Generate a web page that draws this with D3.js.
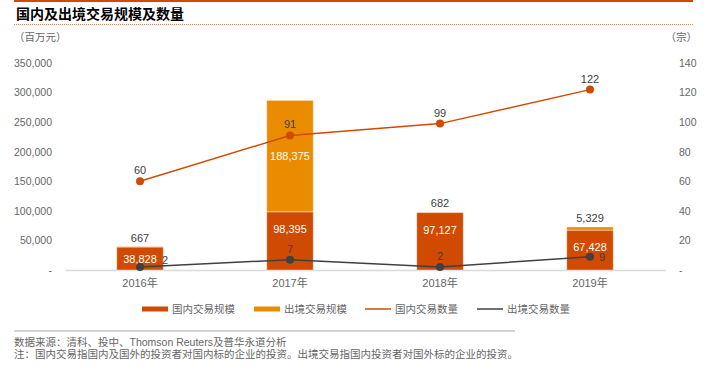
<!DOCTYPE html>
<html>
<head>
<meta charset="utf-8">
<script src="https://cdn.jsdelivr.net/npm/d3@7"></script>
<style>
  body { margin: 0; background: #fff; }
  svg { font-family: "Liberation Sans", Arial, "Noto Sans CJK SC", sans-serif; }
</style>
</head>
<body>
<div id="chart"></div>
<script>
// data
const years = ['2016年', '2017年', '2018年', '2019年'];
const domesticSize = [38828, 98395, 97127, 67428];   // 百万元
const outboundSize = [667, 188375, 682, 5329];       // 百万元
const domesticCount = [60, 91, 99, 122];             // 宗
const outboundCount = [2, 7, 2, 9];                  // 宗
const leftTicks = [0, 50000, 100000, 150000, 200000, 250000, 300000, 350000];
const rightTicks = [0, 20, 40, 60, 80, 100, 120, 140];
const legendNames = ['国内交易规模', '出境交易规模', '国内交易数量', '出境交易数量'];

const W = 716, H = 372;
const cDom = '#d04a02', cOut = '#eb8c00', cDark = '#404041', cGray = '#666666';

const svg = d3.select('#chart').append('svg')
    .attr('width', W).attr('height', H);

// header
svg.append('line').attr('x1', 14).attr('x2', 693).attr('y1', 1).attr('y2', 1)
    .attr('stroke', cDom).attr('stroke-width', 2);
svg.append('text').attr('x', 16).attr('y', 18.5)
    .attr('font-size', 14).attr('font-weight', 'bold').attr('fill', '#000')
    .attr('font-family', '"Noto Sans CJK SC", sans-serif')
    .text('国内及出境交易规模及数量');
svg.append('line').attr('x1', 14).attr('x2', 693).attr('y1', 24.5).attr('y2', 24.5)
    .attr('stroke', '#e8834a').attr('stroke-width', 1).attr('stroke-dasharray', '1,1');

svg.append('text').attr('x', 14).attr('y', 41).attr('font-size', 10.5).attr('fill', cGray)
    .attr('font-family', '"Noto Sans CJK SC", sans-serif').text('（百万元）');
svg.append('text').attr('x', 697).attr('y', 41).attr('font-size', 10.5).attr('fill', cGray)
    .attr('text-anchor', 'end')
    .attr('font-family', '"Noto Sans CJK SC", sans-serif').text('（宗）');

// scales
const x = d3.scaleBand().domain(years).range([65, 665]).paddingInner(0.69).paddingOuter(0.345);
const yL = d3.scaleLinear().domain([0, 350000]).range([270, 63]);
const yR = d3.scaleLinear().domain([0, 140]).range([270, 63]);
const cx = (d, i) => x(years[i]) + x.bandwidth() / 2;

const fmt = d3.format(',');

// left axis
const axL = svg.append('g').attr('transform', 'translate(52,0)')
    .call(d3.axisLeft(yL).tickValues(leftTicks).tickSize(0).tickPadding(0)
      .tickFormat(d => d === 0 ? '-' : fmt(d)));
axL.select('.domain').remove();
axL.selectAll('text').attr('font-size', 10.5).attr('fill', cGray)
    .attr('font-family', '"Liberation Sans", Arial, sans-serif');

// right axis
const axR = svg.append('g').attr('transform', 'translate(679,0)')
    .call(d3.axisRight(yR).tickValues(rightTicks).tickSize(0).tickPadding(0)
      .tickFormat(d => d === 0 ? '-' : d));
axR.select('.domain').remove();
axR.selectAll('text').attr('font-size', 10.5).attr('fill', cGray)
    .attr('font-family', '"Liberation Sans", Arial, sans-serif');

// bottom axis
const axB = svg.append('g').attr('transform', 'translate(0,270)')
    .call(d3.axisBottom(x).tickSize(0).tickPadding(9));
axB.select('.domain').attr('stroke', '#d9d9d9').attr('stroke-width', 1.5);
axB.selectAll('text').attr('font-size', 11).attr('fill', cGray)
    .attr('font-family', '"Liberation Sans", "Noto Sans CJK SC", sans-serif');

// stacked bars
const bars = svg.append('g');
bars.selectAll('rect.dom').data(domesticSize).enter().append('rect')
    .attr('class', 'dom')
    .attr('x', (d, i) => x(years[i]))
    .attr('width', x.bandwidth())
    .attr('y', d => yL(d))
    .attr('height', d => yL(0) - yL(d))
    .attr('fill', cDom).attr('stroke', '#fff').attr('stroke-opacity', 0.4).attr('stroke-width', 1);
bars.selectAll('rect.out').data(outboundSize).enter().append('rect')
    .attr('class', 'out')
    .attr('x', (d, i) => x(years[i]))
    .attr('width', x.bandwidth())
    .attr('y', (d, i) => yL(d + domesticSize[i]))
    .attr('height', (d, i) => yL(domesticSize[i]) - yL(d + domesticSize[i]))
    .attr('fill', cOut).attr('stroke', '#fff').attr('stroke-opacity', 0.4).attr('stroke-width', 1);

// bar labels
const lbl = svg.append('g').attr('font-size', 11).attr('text-anchor', 'middle');
lbl.selectAll('text.dom').data(domesticSize).enter().append('text')
    .attr('x', cx)
    .attr('y', d => yL(d) + Math.min((yL(0) - yL(d)) / 2, 17) + 4)
    .attr('fill', '#fff')
    .text(d => fmt(d));
lbl.selectAll('text.out').data(outboundSize).enter().append('text')
    .attr('x', cx)
    .attr('y', (d, i) => {
      const top = yL(d + domesticSize[i]), h = yL(domesticSize[i]) - top;
      return h > 20 ? top + h / 2 + 4 : top - 5;
    })
    .attr('fill', (d, i) => (yL(domesticSize[i]) - yL(d + domesticSize[i])) > 20 ? '#fff' : cDark)
    .text(d => fmt(d));

// lines
const line = d3.line().x(cx).y(d => yR(d));
svg.append('path').datum(domesticCount).attr('d', line)
    .attr('fill', 'none').attr('stroke', cDom).attr('stroke-width', 1.5);
svg.append('path').datum(outboundCount).attr('d', line)
    .attr('fill', 'none').attr('stroke', cDark).attr('stroke-width', 1.5);
svg.append('g').selectAll('circle').data(domesticCount).enter().append('circle')
    .attr('cx', cx).attr('cy', d => yR(d)).attr('r', 4).attr('fill', cDom);
svg.append('g').selectAll('circle').data(outboundCount).enter().append('circle')
    .attr('cx', cx).attr('cy', d => yR(d)).attr('r', 4).attr('fill', cDark);

svg.append('g').attr('font-size', 11).attr('text-anchor', 'middle').attr('fill', cDark)
  .selectAll('text').data(domesticCount).enter().append('text')
    .attr('x', cx).attr('y', d => yR(d) - 7).text(d => d);

// outbound count labels: first and last sit to the right of the point
const sideRight = [true, false, false, true];
svg.append('g').attr('font-size', 11).attr('fill', cDark)
  .selectAll('text').data(outboundCount).enter().append('text')
    .attr('text-anchor', (d, i) => sideRight[i] ? 'start' : 'middle')
    .attr('x', (d, i) => cx(d, i) + (sideRight[i] ? (i === 0 ? 22 : 9) : 0))
    .attr('y', (d, i) => sideRight[i] ? yR(d) + 4 - (i === 0 ? 7 : 0) : yR(d) - 7)
    .text(d => d);

// legend
const legX = [142, 254, 365, 477];
const leg = svg.append('g').selectAll('g').data(legendNames).enter().append('g')
    .attr('transform', (d, i) => `translate(${legX[i]},309)`);
leg.filter((d, i) => i < 2).append('rect')
    .attr('x', 0).attr('y', -2.5).attr('width', 26).attr('height', 5)
    .attr('fill', (d, i) => i === 0 ? cDom : cOut);
leg.filter((d, i) => i >= 2).append('line')
    .attr('x1', 0).attr('x2', 26).attr('y1', 0).attr('y2', 0)
    .attr('stroke', (d, i) => i === 0 ? cDom : cDark).attr('stroke-width', 1.5);
leg.append('text').attr('x', 30).attr('y', 4).attr('font-size', 10.5).attr('fill', cGray)
    .attr('font-family', '"Noto Sans CJK SC", sans-serif')
    .text(d => d);

// footer
svg.append('line').attr('x1', 14).attr('x2', 515).attr('y1', 331).attr('y2', 331)
    .attr('stroke', '#a6a6a6').attr('stroke-width', 1);
svg.append('text').attr('x', 14).attr('y', 346).attr('font-size', 10.5).attr('fill', cGray)
    .attr('font-family', '"Liberation Sans", "Noto Sans CJK SC", sans-serif')
    .text('数据来源：清科、投中、Thomson Reuters及普华永道分析');
svg.append('text').attr('x', 14).attr('y', 358).attr('font-size', 10.5).attr('fill', cGray)
    .attr('font-family', '"Noto Sans CJK SC", sans-serif')
    .text('注：国内交易指国内及国外的投资者对国内标的企业的投资。出境交易指国内投资者对国外标的企业的投资。');
</script>
</body>
</html>
